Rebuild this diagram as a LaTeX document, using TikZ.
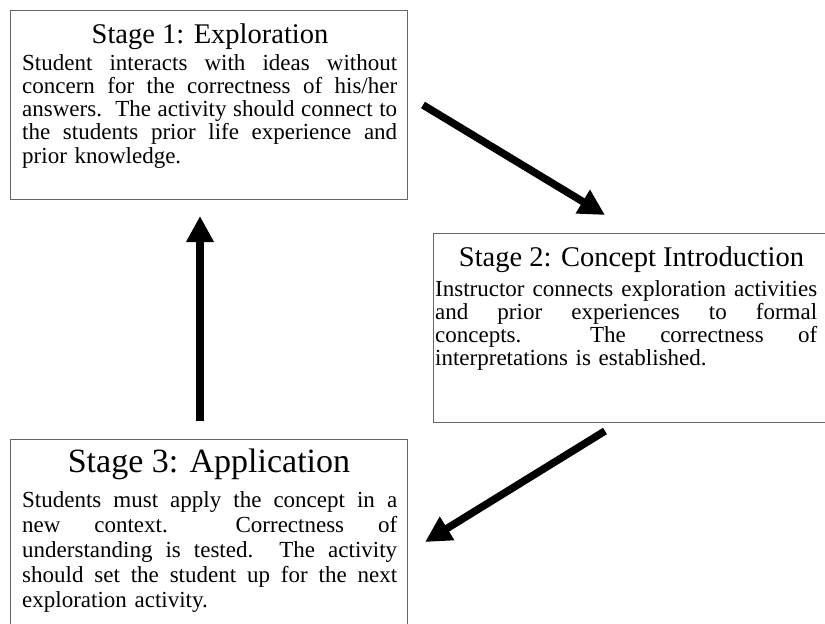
\documentclass[tikz,border=0pt]{standalone}
\usepackage{fontspec}
\setmainfont{Liberation Serif}
\usetikzlibrary{arrows.meta}
\newcommand{\fullline}[2][375pt]{\hbox to #1{\spaceskip=0.25em plus 3em minus 0.08em\xspaceskip=0.5em plus 3em minus 0.1em #2}}
\tikzstyle{stagebox} = [draw=black!60, line width=1.3pt, anchor=north west, inner sep=0pt]
\tikzstyle{stagehead} = [anchor=base, inner sep=0pt, font=\fontsize{28.5}{30}\selectfont]
\tikzstyle{stagetext} = [anchor=base west, inner sep=0pt, text width=375pt, font=\fontsize{23}{23.3}\selectfont]
\tikzstyle{flow} = [->, line width=7.5pt]

\begin{document}
\begin{tikzpicture}[x=1pt, y=-1pt, >={Triangle[length=26pt,width=26pt]}]
        \path[use as bounding box] (0,0) rectangle (825,624);
        \clip (0,0) rectangle (825,624);
        % stage 1
        \path[] node[stagebox,minimum width=397pt,minimum height=189pt] (explore) at (10,10) {};
        \path[] node[stagehead] (explorehead) at (210,43) {Stage 1: Exploration};
        \path[] node[stagetext] (exploretext) at (22,70) {\fullline{Student interacts with ideas without}
          \fullline{concern for the correctness of his/her}
          \fullline{answers.\ \ The activity should connect to}
          \fullline{the students prior life experience and}
          prior knowledge.};
        % stage 2
        \path[] node[stagebox,minimum width=400pt,minimum height=189pt] (concept) at (433,233) {};
        \path[] node[stagehead] (concepthead) at (631.5,266) {Stage 2: Concept Introduction};
        \path[] node[stagetext,text width=382pt] (concepttext) at (435,296) {\fullline[382pt]{Instructor connects exploration activities}
          \fullline[382pt]{and prior experiences to formal}
          \fullline[382pt]{concepts.\ \ The correctness of}
          interpretations is established.};
        % stage 3
        \path[] node[stagebox,minimum width=397pt,minimum height=200pt] (apply) at (10,439) {};
        \path[] node[stagehead,font=\fontsize{34}{36}\selectfont] (applyhead) at (209,472) {Stage 3: Application};
        \path[] node[stagetext,font=\fontsize{23}{25}\selectfont] (applytext) at (22,507) {\fullline{Students must apply the concept in a}
          \fullline{new context.\ \ Correctness of}
          \fullline{understanding is tested.\ \ The activity}
          \fullline{should set the student up for the next}
          exploration activity.};
        % cycle arrows
        \coordinate (a1from) at (423,105);
        \coordinate (a1to) at (605,215);
        \coordinate (a2from) at (605,431);
        \coordinate (a2to) at (425,542);
        \coordinate (a3from) at (200,421);
        \coordinate (a3to) at (200,216);
        \path[flow] (a1from) edge (a1to);
        \path[flow] (a2from) edge (a2to);
        \path[flow] (a3from) edge (a3to);
      \end{tikzpicture}
\end{document}
